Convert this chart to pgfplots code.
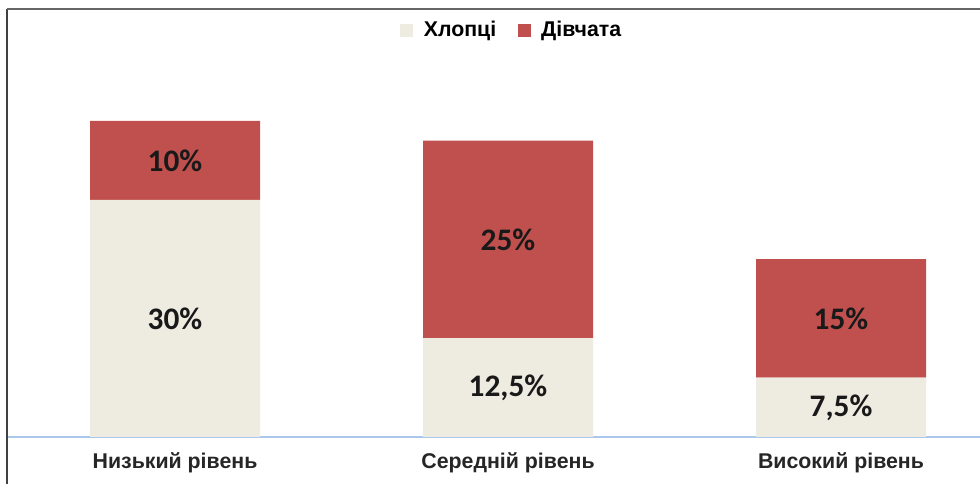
\documentclass[border=0pt]{standalone}
\usepackage{pgfplots}
\pgfplotsset{compat=1.18}
\usepackage{fontspec}
\setmainfont{Liberation Sans}
\newfontfamily\calib{Carlito}
\definecolor{boys}{HTML}{EEEBE0}
\definecolor{girls}{HTML}{C0504D}
\definecolor{baseblue}{HTML}{A9C8EC}
\pgfplotsset{sqlegend/.style={legend image code/.code={\fill[##1,draw=none] (0pt,-4.9pt) rectangle (9.75pt,4.9pt);}}}
\begin{document}
\begin{tikzpicture}
\useasboundingbox (0,0) rectangle (735pt,363pt);
\fill[white] (0,0) rectangle (735pt,363pt);
\draw[line width=1.5pt, black!75] (5.25pt,0pt) -- (5.25pt,356.25pt);
\draw[line width=1.5pt, black!60] (5.25pt,356.25pt) -- (735pt,356.25pt);
\begin{axis}[
  at={(6.375pt,35.25pt)}, anchor=south west,
  scale only axis, width=749.25pt, height=296.25pt,
  ybar stacked, bar width=127.5pt,
  xmin=-0.5, xmax=2.5, ymin=0, ymax=50,
  axis x line*=bottom, x axis line style={-, draw=baseblue, line width=1.5pt},
  hide y axis,
  xtick={0,1,2}, xticklabels={Низький рівень, Середній рівень, Високий рівень},
  major tick length=0pt,
  xticklabel style={anchor=center, yshift=-19.5pt, font=\bfseries\fontsize{16}{18}\selectfont, text=black!85},
  point meta=explicit symbolic,
  nodes near coords,
  every node near coord/.append style={anchor=center, font=\calib\bfseries\fontsize{23.5}{25}\selectfont, text=black!90},
  legend columns=2,
  legend style={at={(0.504,1.03)}, anchor=center, draw=none, fill=none,
    font=\bfseries\fontsize{16}{18}\selectfont,
    /tikz/every odd column/.append style={column sep=6pt},
    /tikz/every even column/.append style={column sep=14pt}},
  clip=false,
]
\addplot[fill=boys, draw=none, sqlegend] table[x=x, y=y, meta=l] {
x y l
0 30 30\%
1 12.5 12,5\%
2 7.5 7,5\%
};
\addplot[fill=girls, draw=none, sqlegend] table[x=x, y=y, meta=l] {
x y l
0 10 10\%
1 25 25\%
2 15 15\%
};
\legend{Хлопці, Дівчата}
\end{axis}
\end{tikzpicture}
\end{document}
